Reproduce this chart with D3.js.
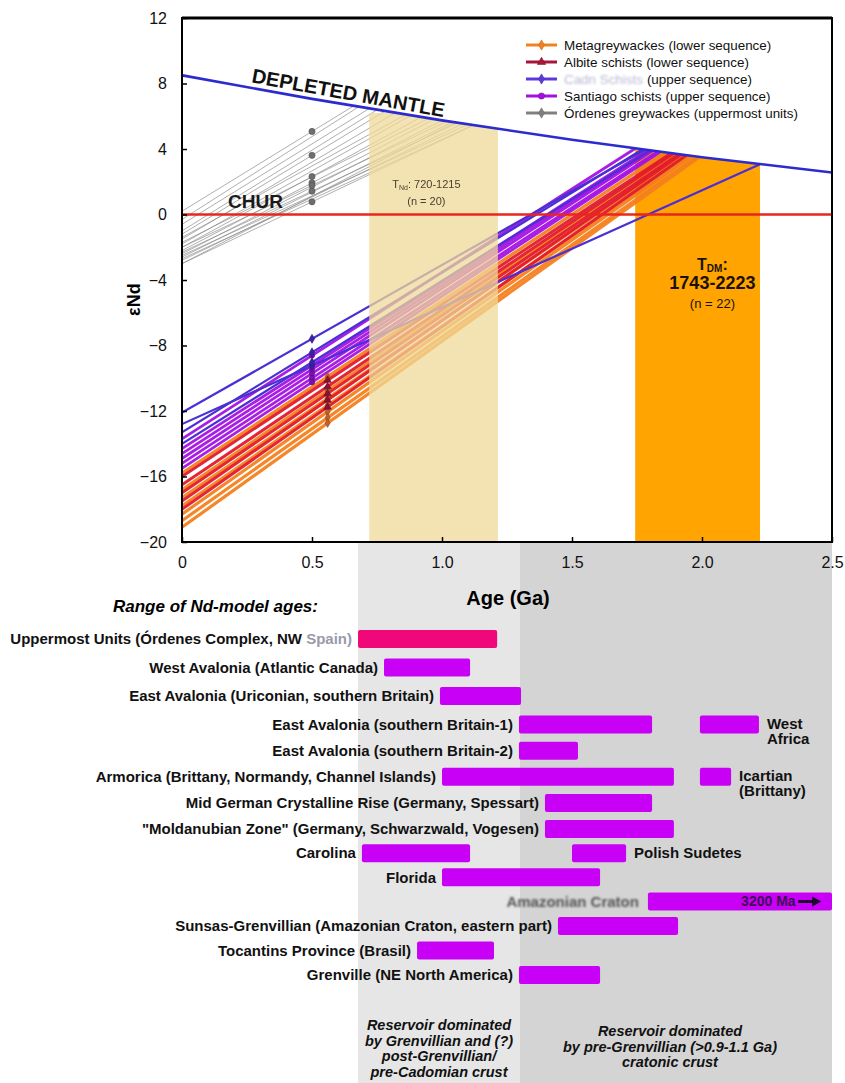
<!DOCTYPE html>
<html>
<head>
<meta charset="utf-8">
<script src="https://cdn.jsdelivr.net/npm/d3@7/dist/d3.min.js"></script>
<style>
  html, body { margin: 0; padding: 0; background: #ffffff; }
  svg text { font-family: "Liberation Sans", Arial, Helvetica, sans-serif; }
</style>
</head>
<body>
<svg id="chart" width="845" height="1083"></svg>
<script>
// ---------- axes ----------
const xTicks = [0, 0.5, 1.0, 1.5, 2.0, 2.5];
const xTickLabels = ["0", "0.5", "1.0", "1.5", "2.0", "2.5"];
const yTicks = [12, 8, 4, 0, -4, -8, -12, -16, -20];

// ---------- reference reservoirs ----------
// depleted mantle, read at each age tick (Ga, eNd)
const dmAges = [0, 0.5, 1.0, 1.5, 2.0, 2.5];
const dmEps = [8.5, 7.06, 5.75, 4.56, 3.5, 2.56];
const churEps = 0;

// ---------- model-age intervals ----------
const tndRange = [0.720, 1.215];   // Órdenes greywackes
const tndCount = 20;
const tdmRange = [1.743, 2.223];   // lower + upper sequences
const tdmCount = 22;
const tndCap = 6.2;                // top of the T_Nd field

// ---------- Nd evolution lines: [eNd today, model age Ga, eNd at model age] ----------
const ordenesLines = [
  [0.2, 0.66, 6.63], [-0.3, 0.68, 6.58], [-0.6, 0.72, 6.47], [-1.0, 0.75, 6.39],
  [-1.2, 0.78, 6.31], [-1.5, 0.82, 6.21], [-1.4, 0.86, 6.10], [-1.8, 0.88, 6.05],
  [-2.0, 0.92, 5.95], [-1.7, 0.95, 5.88], [-2.2, 0.97, 5.82], [-2.4, 1.00, 5.75],
  [-2.0, 1.02, 5.70], [-2.6, 1.04, 5.65], [-2.3, 1.06, 5.60], [-2.8, 1.08, 5.55],
  [-2.5, 1.10, 5.50], [-3.0, 1.12, 5.45], [-2.7, 1.12, 5.45], [-3.0, 1.05, 5.63]
];
// lines whose measured sample is plotted as a dot
const ordenesSampled = [0, 4, 8, 10, 12, 14, 17];
const metagreywackeLines = [
  [-15.8, 1.86, 3.79], [-16.8, 1.90, 3.70], [-17.3, 1.93, 3.64], [-17.8, 1.95, 3.60],
  [-18.3, 1.96, 3.58], [-18.7, 1.98, 3.54], [-19.1, 1.99, 3.52]
];
const albiteLines = [
  [-16.0, 1.88, 3.74], [-16.5, 1.89, 3.72], [-17.0, 1.91, 3.68], [-17.5, 1.92, 3.66],
  [-18.0, 1.94, 3.62]
];
const cadnLines = [
  [-12.1, 1.78, 3.95], [-12.8, 2.223, 3.07], [-13.3, 1.77, 3.97], [-14.0, 1.80, 3.91]
];
const santiagoLines = [
  [-13.7, 1.743, 4.03], [-14.3, 1.79, 3.93], [-14.6, 1.80, 3.91], [-14.9, 1.81, 3.89],
  [-15.2, 1.83, 3.85], [-15.5, 1.84, 3.83]
];
const upperSampleAge = 0.50;   // deposition age used for the upper sequence + Órdenes
const lowerSampleAge = 0.56;   // deposition age used for the lower sequence

// ---------- legend ----------
const seriesNames = ["Metagreywackes", "Albite schists", "Cadn Schists", "Santiago schists", "Órdenes greywackes"];
const seriesNotes = ["(lower sequence)", "(lower sequence)", "(upper sequence)", "(upper sequence)", "(uppermost units)"];

// ---------- range of Nd-model ages (Ga) ----------
const provinceNames = [
  "Uppermost Units (Órdenes Complex, NW |Spain)",
  "West Avalonia (Atlantic Canada)",
  "East Avalonia (Uriconian, southern Britain)",
  "East Avalonia (southern Britain-1)",
  "East Avalonia (southern Britain-2)",
  "Armorica (Brittany, Normandy, Channel Islands)",
  "Mid German Crystalline Rise (Germany, Spessart)",
  "\"Moldanubian Zone\" (Germany, Schwarzwald, Vogesen)",
  "Carolina",
  "Florida",
  "Amazonian Craton",
  "Sunsas-Grenvillian (Amazonian Craton, eastern part)",
  "Tocantins Province (Brasil)",
  "Grenville (NE North America)"
];
const provinceFrom = [0.677, 0.777, 0.992, 1.296, 1.296, 1.000, 1.396, 1.396, 0.692, 1.000, 1.792, 1.446, 0.904, 1.296];
const provinceTo   = [1.212, 1.108, 1.304, 1.808, 1.523, 1.892, 1.808, 1.892, 1.108, 1.608, 3.200, 1.908, 1.200, 1.608];
const extraNames = [["West", "Africa"], ["Icartian", "(Brittany)"], ["Polish Sudetes"]];
const extraRow = [3, 5, 8];
const extraFrom = [1.992, 1.992, 1.500];
const extraTo = [2.219, 2.112, 1.708];
const amazonMaxLabel = "3200 Ma";

// ---------- crustal reservoirs behind the ranges ----------
const reservoirFrom = [0.677, 1.30];
const reservoirTo = [1.30, 2.50];
const reservoirText = [
  ["Reservoir dominated", "by Grenvillian and (?)", "post-Grenvillian/", "pre-Cadomian crust"],
  ["Reservoir dominated", "by pre-Grenvillian (>0.9-1.1 Ga)", "cratonic crust"]
];

// =====================================================================
const svg = d3.select("#chart");
const P = { left: 182, right: 832, top: 18, bottom: 542 };

const x = d3.scaleLinear().domain([0, 2.5]).range([P.left, P.right]);
const y = d3.scaleLinear().domain([-20, 12]).range([P.bottom, P.top]);
const rowY = d3.scaleLinear().domain([0, 3, 7, 10, 13]).range([639, 724.5, 829, 901.5, 975]);

const colors = {
  meta: "#f4801f", albite: "#e11a2c", cadn: "#4c2fd4", santiago: "#a312e4", ordenes: "#8d8d8d",
  dm: "#2b2bd0", chur: "#e8261e", tan: "#f0da98", orange: "#ffa400",
  bar: "#c900f6", barPink: "#f0077a", light: "#e6e6e6", dark: "#d4d4d4"
};

const defs = svg.append("defs");
defs.append("filter").attr("id", "soft").append("feGaussianBlur").attr("stdDeviation", 0.8);
defs.append("filter").attr("id", "soft2").append("feGaussianBlur").attr("stdDeviation", 0.45);
defs.append("clipPath").attr("id", "plotClip")
  .append("rect").attr("x", P.left).attr("y", P.top)
  .attr("width", P.right - P.left).attr("height", P.bottom - P.top);

const dmPts = dmAges.map((t, i) => [t, dmEps[i]]);
const dmArea = d3.area().x(d => x(d[0])).y0(y(-20)).y1(d => y(d[1])).curve(d3.curveNatural);
defs.append("clipPath").attr("id", "belowDM").append("path").attr("d", dmArea(dmPts));

// ---------- reservoir backgrounds (lower panel) ----------
const resColors = [colors.light, colors.dark];
reservoirFrom.forEach((f, i) => {
  svg.append("rect")
    .attr("x", x(f)).attr("y", P.bottom)
    .attr("width", x(reservoirTo[i]) - x(f)).attr("height", 1083 - P.bottom)
    .attr("fill", resColors[i]);
});

// ---------- plot panel ----------
const plot = svg.append("g").attr("clip-path", "url(#plotClip)");

// T_DM field (behind the evolution lines)
plot.append("g").attr("clip-path", "url(#belowDM)")
  .append("rect")
  .attr("x", x(tdmRange[0])).attr("y", P.top)
  .attr("width", x(tdmRange[1]) - x(tdmRange[0])).attr("height", P.bottom - P.top)
  .attr("fill", colors.orange);

const lineGen = d3.line().x(d => x(d[0])).y(d => y(d[1]));
const seg = l => [[0, l[0]], [l[1], l[2]]];
const epsAt = (l, t) => l[0] + (l[2] - l[0]) * (t / l[1]);

function drawLines(data, color, width, opacity) {
  plot.append("g").selectAll("path").data(data).join("path")
    .attr("d", d => lineGen(seg(d)))
    .attr("fill", "none").attr("stroke", color)
    .attr("stroke-width", width).attr("stroke-opacity", opacity);
}

drawLines(ordenesLines, colors.ordenes, 1, 0.7);
drawLines(metagreywackeLines, colors.meta, 3.2, 0.95);
drawLines(albiteLines, colors.albite, 3.0, 0.95);
drawLines(santiagoLines, colors.santiago, 2.8, 0.95);
drawLines(cadnLines, colors.cadn, 2.2, 1);

// T_Nd field, laid over the lines
plot.append("g").attr("clip-path", "url(#belowDM)")
  .append("rect")
  .attr("x", x(tndRange[0])).attr("y", y(tndCap))
  .attr("width", x(tndRange[1]) - x(tndRange[0])).attr("height", y(-20) - y(tndCap))
  .attr("fill", colors.tan).attr("fill-opacity", 0.75);

// CHUR and depleted mantle
plot.append("line")
  .attr("x1", x(0)).attr("x2", x(2.5)).attr("y1", y(churEps)).attr("y2", y(churEps))
  .attr("stroke", colors.chur).attr("stroke-width", 2.5);
plot.append("path")
  .attr("d", d3.line().x(d => x(d[0])).y(d => y(d[1])).curve(d3.curveNatural)(dmPts))
  .attr("fill", "none").attr("stroke", colors.dm).attr("stroke-width", 2.6);

// sample markers
function drawMarkers(data, t, color, symbol, size) {
  plot.append("g").selectAll("path").data(data).join("path")
    .attr("transform", d => `translate(${x(t)},${y(epsAt(d, t))})`)
    .attr("d", d3.symbol().type(symbol).size(size))
    .attr("fill", color).attr("stroke", d3.color(color).darker(0.8)).attr("stroke-width", 0.6);
}
drawMarkers(ordenesSampled.map(i => ordenesLines[i]), upperSampleAge, "#6e6e6e", d3.symbolCircle, 30);
drawMarkers(metagreywackeLines, lowerSampleAge, "#c0602a", d3.symbolDiamond, 22);
drawMarkers(albiteLines, lowerSampleAge, "#8a1030", d3.symbolTriangle, 24);
drawMarkers(santiagoLines, upperSampleAge, "#7a10b0", d3.symbolCircle, 22);
drawMarkers(cadnLines, upperSampleAge, "#3a22a8", d3.symbolDiamond, 24);

// ---------- frame and axes ----------
svg.append("rect")
  .attr("x", P.left).attr("y", P.top)
  .attr("width", P.right - P.left).attr("height", P.bottom - P.top)
  .attr("fill", "none").attr("stroke", "#000").attr("stroke-width", 2);
svg.append("line").attr("x1", P.left).attr("x2", P.right).attr("y1", P.top).attr("y2", P.top)
  .attr("stroke", "#000").attr("stroke-width", 3);

const xAxis = svg.append("g").attr("transform", `translate(0,${P.bottom})`)
  .call(d3.axisBottom(x).tickValues(xTicks).tickFormat((d, i) => xTickLabels[i])
    .tickSizeInner(-5).tickSizeOuter(0).tickPadding(15));
const yAxis = svg.append("g").attr("transform", `translate(${P.left},0)`)
  .call(d3.axisLeft(y).tickValues(yTicks).tickSizeInner(-5).tickSizeOuter(0).tickPadding(15));
[xAxis, yAxis].forEach(a => {
  a.select(".domain").remove();
  a.selectAll(".tick line").attr("stroke", "#000").attr("stroke-width", 1.5);
  a.selectAll(".tick text").attr("font-size", 16).attr("fill", "#111")
    .attr("font-family", "'Liberation Sans', Arial, sans-serif");
});

svg.append("text")
  .attr("transform", `translate(140,${y(-5.2)}) rotate(-90)`)
  .attr("text-anchor", "middle").attr("font-size", 18).attr("font-weight", "bold")
  .text("εNd");

svg.append("text")
  .attr("x", 508).attr("y", 605).attr("text-anchor", "middle")
  .attr("font-size", 20).attr("font-weight", "bold").text("Age (Ga)");

// ---------- in-plot annotations ----------
{
  const t = 0.635;
  const ang = Math.atan2(y(dmEps[1]) - y(dmEps[0]), x(0.5) - x(0)) * 180 / Math.PI;
  svg.append("text")
    .attr("transform", `translate(${x(t)},${y(6.7) - 5}) rotate(${ang})`)
    .attr("text-anchor", "middle").attr("font-size", 20).attr("font-weight", "bold")
    .attr("fill", "#111").text("DEPLETED MANTLE");
}
svg.append("text").attr("x", x(0.177)).attr("y", y(0.4))
  .attr("font-size", 19).attr("font-weight", "bold").attr("fill", "#1a1a1a").text("CHUR");

{
  const cx = x(0.94);
  const g = svg.append("g").attr("filter", "url(#soft2)").attr("fill", "#4a4030");
  const t1 = g.append("text").attr("x", cx).attr("y", y(1.6)).attr("text-anchor", "middle").attr("font-size", 11);
  t1.append("tspan").text("T");
  t1.append("tspan").attr("font-size", 7).attr("dy", 2).text("Nd");
  t1.append("tspan").attr("dy", -2).text(`: ${Math.round(tndRange[0] * 1000)}-${Math.round(tndRange[1] * 1000)}`);
  g.append("text").attr("x", cx).attr("y", y(0.55)).attr("text-anchor", "middle").attr("font-size", 11)
    .text(`(n = ${tndCount})`);
}
{
  const cx = x(2.04);
  const t1 = svg.append("text").attr("x", cx).attr("y", y(-3.4)).attr("text-anchor", "middle")
    .attr("font-size", 16).attr("font-weight", "bold").attr("fill", "#1a1206");
  t1.append("tspan").text("T");
  t1.append("tspan").attr("font-size", 10).attr("dy", 2).text("DM");
  t1.append("tspan").attr("dy", -2).text(":");
  svg.append("text").attr("x", cx).attr("y", y(-4.55)).attr("text-anchor", "middle")
    .attr("font-size", 18).attr("font-weight", "bold").attr("fill", "#1a1206")
    .text(`${Math.round(tdmRange[0] * 1000)}-${Math.round(tdmRange[1] * 1000)}`);
  svg.append("text").attr("x", cx).attr("y", y(-5.7)).attr("text-anchor", "middle")
    .attr("font-size", 13).attr("fill", "#1a1206").text(`(n = ${tdmCount})`);
}

// ---------- legend ----------
{
  const lColors = [colors.meta, "#a8153a", "#5a3ad8", "#a310e0", "#808080"];
  const lSymbols = [d3.symbolDiamond, d3.symbolTriangle, d3.symbolDiamond, d3.symbolCircle, d3.symbolDiamond];
  const lg = svg.append("g");
  seriesNames.forEach((name, i) => {
    const ly = 45 + i * 17;
    lg.append("line").attr("x1", 526).attr("x2", 557).attr("y1", ly).attr("y2", ly)
      .attr("stroke", lColors[i]).attr("stroke-width", 3);
    lg.append("path").attr("transform", `translate(541.5,${ly})`)
      .attr("d", d3.symbol().type(lSymbols[i]).size(30)).attr("fill", lColors[i])
      .attr("stroke", d3.color(lColors[i]).darker(0.7)).attr("stroke-width", 0.6);
    const blurred = i === 2;
    const t1 = lg.append("text").attr("x", 564).attr("y", ly).attr("dy", "0.35em")
      .attr("font-size", 13.4).attr("fill", blurred ? "#b9b9d2" : "#111").text(name);
    if (blurred) t1.attr("filter", "url(#soft)");
    const w = t1.node().getComputedTextLength();
    lg.append("text").attr("x", 564 + w + 4).attr("y", ly).attr("dy", "0.35em")
      .attr("font-size", 13.4).attr("fill", "#111").text(seriesNotes[i]);
  });
}

// ---------- range of Nd-model ages ----------
svg.append("text").attr("x", 113).attr("y", 612)
  .attr("font-size", 17).attr("font-weight", "bold").attr("font-style", "italic")
  .text("Range of Nd-model ages:");

const barH = 18;
const bars = svg.append("g");
provinceNames.forEach((name, i) => {
  const cy = rowY(i);
  const x0 = x(provinceFrom[i]);
  const x1 = x(Math.min(provinceTo[i], 2.5));
  bars.append("rect").attr("x", x0).attr("y", cy - barH / 2)
    .attr("width", x1 - x0).attr("height", barH).attr("rx", 2)
    .attr("fill", i === 0 ? colors.barPink : colors.bar);

  if (i === 10) {
    svg.append("text").attr("x", x0 - 9).attr("y", cy).attr("dy", "0.35em")
      .attr("text-anchor", "end").attr("font-size", 15).attr("font-weight", "bold")
      .attr("fill", "#555").attr("filter", "url(#soft)").text(name);
    svg.append("text").attr("x", x(2.36)).attr("y", cy).attr("dy", "0.35em")
      .attr("text-anchor", "end").attr("font-size", 14).attr("font-weight", "bold")
      .attr("fill", "#3e0f55").text(amazonMaxLabel);
    const ax = x(2.37), ay = cy;
    svg.append("path")
      .attr("d", `M${ax},${ay} L${ax + 16},${ay}`)
      .attr("stroke", "#1e0830").attr("stroke-width", 3);
    svg.append("path")
      .attr("d", `M${ax + 14},${ay - 5} L${ax + 23},${ay} L${ax + 14},${ay + 5} Z`)
      .attr("fill", "#1e0830");
    return;
  }
  const parts = name.split("|");
  const t = svg.append("text").attr("x", x0 - 6).attr("y", cy).attr("dy", "0.35em")
    .attr("text-anchor", "end").attr("font-size", 15).attr("font-weight", "bold").attr("fill", "#111");
  t.append("tspan").text(parts[0]);
  if (parts[1]) t.append("tspan").attr("fill", "#9a9aaa").text(parts[1]);
});

extraRow.forEach((r, i) => {
  const cy = rowY(r);
  const x0 = x(extraFrom[i]), x1 = x(extraTo[i]);
  bars.append("rect").attr("x", x0).attr("y", cy - barH / 2)
    .attr("width", x1 - x0).attr("height", barH).attr("rx", 2).attr("fill", colors.bar);
  const lines = extraNames[i];
  const t = svg.append("text").attr("x", x1 + 8).attr("y", lines.length > 1 ? cy + 4 : cy)
    .attr("dy", lines.length > 1 ? 0 : "0.35em")
    .attr("font-size", 15).attr("font-weight", "bold").attr("fill", "#111");
  lines.forEach((s, k) => t.append("tspan").attr("x", x1 + 8).attr("dy", k === 0 ? null : 15).text(s));
});

// ---------- reservoir captions ----------
reservoirText.forEach((lines, i) => {
  const cx = (x(reservoirFrom[i]) + x(reservoirTo[i])) / 2 - (i === 1 ? 6 : 0);
  const y0 = i === 0 ? 1030 : 1036;
  const t = svg.append("text").attr("text-anchor", "middle")
    .attr("font-size", 14.5).attr("font-weight", "bold").attr("font-style", "italic").attr("fill", "#111");
  lines.forEach((s, k) => t.append("tspan").attr("x", cx).attr("y", y0 + k * 15.5).text(s));
});
</script>
</body>
</html>
